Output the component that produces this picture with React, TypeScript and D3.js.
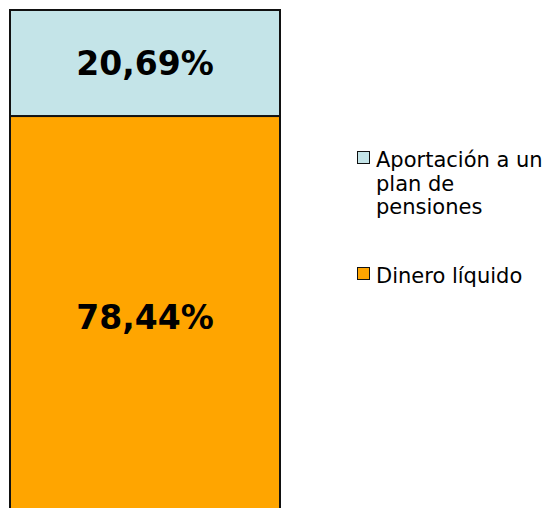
import React, { useEffect, useRef } from "react";
import * as d3 from "d3";

const categories = ["Dinero líquido", "Aportación a un plan de pensiones"];
const values = [78.44, 20.69];
const labels = ["78,44%", "20,69%"];
const colors = ["#FFA500", "#C4E4E8"];
const legendOrder = [1, 0];
const legendLines = [["Aportación a un", "plan de", "pensiones"], ["Dinero líquido"]];

export default function App() {
  const ref = useRef<SVGSVGElement | null>(null);

  useEffect(() => {
    const svg = d3.select(ref.current);
    svg.selectAll("*").remove();
    const total = d3.sum(values);
    const y = d3.scaleLinear().domain([0, total]).range([518, 10]);
    const x = d3.scaleBand().domain(["bar"]).range([10, 280]).padding(0);

    const stacked: { v0: number; v1: number; i: number }[] = [];
    let acc = 0;
    values.forEach((v, i) => {
      stacked.push({ v0: acc, v1: acc + v, i });
      acc += v;
    });

    const g = svg.append("g");
    g.selectAll("rect.seg")
      .data(stacked)
      .enter()
      .append("rect")
      .attr("class", "seg")
      .attr("x", x("bar")!)
      .attr("width", x.bandwidth())
      .attr("y", (d) => y(d.v1))
      .attr("height", (d) => y(d.v0) - y(d.v1))
      .attr("fill", (d) => colors[d.i])
      .attr("stroke", "#111")
      .attr("stroke-width", 2);

    g.selectAll("text.lbl")
      .data(stacked)
      .enter()
      .append("text")
      .attr("class", "lbl")
      .attr("x", x("bar")! + x.bandwidth() / 2)
      .attr("y", (d) => (y(d.v0) + y(d.v1)) / 2 + 12)
      .attr("text-anchor", "middle")
      .attr("font-family", "DejaVu Sans, Verdana, sans-serif")
      .attr("font-weight", "bold")
      .attr("font-size", 33)
      .attr("fill", "#000")
      .text((d) => labels[d.i]);

    const legendY = [167, 283];
    const lg = svg.append("g");
    legendOrder.forEach((idx, k) => {
      const by = legendY[k];
      lg.append("rect")
        .attr("x", 357.5)
        .attr("y", by - 15.5)
        .attr("width", 12)
        .attr("height", 12)
        .attr("fill", colors[idx])
        .attr("stroke", "#111")
        .attr("stroke-width", 1);
      const t = lg
        .append("text")
        .attr("font-family", "DejaVu Sans, Verdana, sans-serif")
        .attr("font-size", 21)
        .attr("fill", "#000");
      legendLines[k].forEach((line, li) => {
        t.append("tspan")
          .attr("x", 376)
          .attr("y", by + li * 23.5)
          .text(line);
      });
    });
  }, []);

  return (
    <svg
      ref={ref}
      width={547}
      height={508}
      style={{ position: "absolute", left: 0, top: 0, background: "#fff" }}
    />
  );
}
